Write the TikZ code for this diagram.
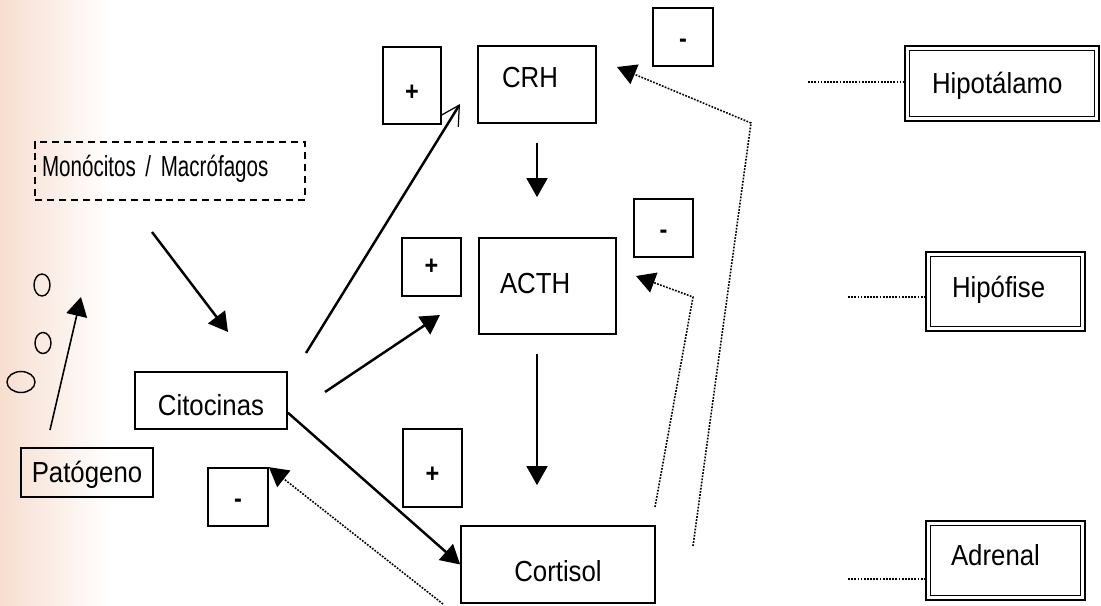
\documentclass[tikz,border=0pt]{standalone}
\usepackage{fontspec}
\setmainfont{Liberation Sans}[FakeStretch=0.89]
\newfontfamily\narrowfont{Liberation Sans}[FakeStretch=0.71]
\usepackage{xcolor}
\usepackage{tikz}
\usetikzlibrary{arrows.meta,positioning}
\definecolor{scanpink}{RGB}{247,222,208}

\tikzset{
  box/.style={draw, line width=1pt, inner sep=0pt, text height=11.8pt, text depth=0pt,
    font=\fontsize{16.5}{19}\selectfont},
  plusbox/.style={draw, line width=1pt, inner sep=0pt, text height=9pt, text depth=0pt,
    font=\fontsize{15}{18}\selectfont\bfseries},
  minusbox/.style={plusbox, text height=12pt},
  dashbox/.style={box, dash pattern=on 4pt off 2.8pt, font=\fontsize{16.5}{19}\narrowfont},
  organ/.style={box, line width=1.5pt},
  solidhead/.style={-{Triangle[length=0.38cm,width=0.42cm]}},
  heavy/.style={line width=1.4pt, solidhead},
  light/.style={line width=0.9pt, solidhead},
  feedback/.style={line width=0.9pt, dash pattern=on 1pt off 0.8pt, solidhead},
  guide/.style={line width=0.9pt, dash pattern=on 1pt off 0.8pt},
}

\begin{document}
\begin{tikzpicture}[x=0.02cm, y=-0.02cm]
        \useasboundingbox (0,0) rectangle (1101,605);
        \shade[left color=scanpink, right color=white] (0,0) rectangle (110,605);
        % eixo hormonal
        \node[box, minimum width=2.36cm, minimum height=1.54cm, inner xsep=0.48cm, text width=1.4cm, align=left, text depth=8.6pt] (crh) at (537,84.5) {CRH};
        \node[box, minimum width=2.74cm, minimum height=1.92cm, inner xsep=0.42cm, text width=1.9cm, align=left, text depth=3.4pt] (acth) at (547.5,286) {ACTH};
        \node[box, minimum width=3.88cm, minimum height=1.54cm, text height=19.2pt] (cort) at (558,564.5) {Cortisol};
        \node[plusbox, minimum width=1.16cm, minimum height=1.54cm, text height=17.6pt] (pcrh) at (412,85.5) {+};
        \node[plusbox, minimum width=1.18cm, minimum height=1.16cm] (pacth) at (431.5,267) {+};
        \node[plusbox, minimum width=1.18cm, minimum height=1.56cm, text height=17pt] (pcort) at (432.5,468) {+};
        \node[minusbox, minimum width=1.2cm, minimum height=1.16cm] (mcrh) at (683,37) {-};
        \node[minusbox, minimum width=1.18cm, minimum height=1.16cm] (macth) at (663.5,228) {-};
        % lado imune
        \node[dashbox, minimum height=1.16cm, inner xsep=0.14cm, text width=5.12cm, align=left, text depth=5.7pt] (mono) at (170,171) {Monócitos / Macrófagos};
        \node[box, minimum width=3.04cm, minimum height=1.14cm, text height=16.9pt] (cito) at (211,400.5) {Citocinas};
        \node[box, minimum width=2.64cm, minimum height=0.98cm] (pat) at (87,472.5) {Patógeno};
        \node[minusbox, minimum width=1.2cm, minimum height=1.16cm] (mcito) at (238,497) {-};
        % glândulas
        \node[organ, minimum height=1.5cm, inner xsep=0.54cm, text width=2.8cm, align=left] (hipo) at (1002,83.5) {Hipotálamo};
        \node[organ, minimum height=1.58cm, inner xsep=0.52cm, text width=2.14cm, align=left, text depth=5.1pt] (hipof) at (1005.5,291.5) {Hipófise};
        \node[organ, minimum height=1.58cm, inner xsep=0.5cm, text width=2.18cm, align=left, text depth=6.3pt] (adr) at (1005.5,560.5) {Adrenal};
        \foreach \n in {hipo,hipof,adr}{\draw[line width=0.7pt] ([shift={(5.5,5.5)}]\n.north west) rectangle ([shift={(-5.5,-5.5)}]\n.south east);}

        % partículas
        \draw[line width=0.8pt] (42,285) ellipse [x radius=0.16cm, y radius=0.22cm];
        \draw[line width=0.8pt] (43,343) ellipse [x radius=0.16cm, y radius=0.21cm];
        \draw[line width=0.8pt] (21,382) ellipse [x radius=0.28cm, y radius=0.21cm];

        % setas
        \coordinate (monoA) at (152,232);
        \coordinate (monoB) at (228,332);
        \draw[heavy] (monoA) -- (monoB);
        \coordinate (patA) at (50,430);
        \coordinate (patB) at (81,297);
        \draw[light] (patA) -- (patB);
        \coordinate (citoA) at (306,353);
        \coordinate (crhA) at (460,104);
        \draw[line width=1.4pt, -{Straight Barb[length=0.38cm,width=0.42cm,line width=0.7pt]}] (citoA) -- (crhA);
        \coordinate (citoB) at (325,392);
        \coordinate (acthA) at (440,315);
        \draw[heavy] (citoB) -- (acthA);
        \draw[heavy] (cito.-9) -- (cort.west);
        \draw[light, shorten <=0.38cm, shorten >=0.8cm] (crh.south) -- (crh.south |- acth.north);
        \draw[light, shorten <=0.38cm, shorten >=0.8cm] (crh.south |- acth.south) -- (crh.south |- cort.north);

        % retroalimentação
        \coordinate (fbA) at (693,546);
        \coordinate (fbB) at (751,123);
        \coordinate (fbC) at (617,67);
        \draw[feedback] (fbA) -- (fbB) -- (fbC);
        \coordinate (fbD) at (655,507);
        \coordinate (fbE) at (693,297);
        \coordinate (fbF) at (636,276);
        \draw[feedback] (fbD) -- (fbE) -- (fbF);
        \coordinate (fbG) at (443,604);
        \draw[feedback] (fbG) -- (mcito.north east);

        % guias
        \coordinate (gHipo) at (808,82);
        \coordinate (gHipof) at (848,297);
        \coordinate (gAdr) at (848,579);
        \draw[guide] (gHipo) -- (gHipo -| hipo.west);
        \draw[guide] (gHipof) -- (gHipof -| hipof.west);
        \draw[guide] (gAdr) -- (gAdr -| adr.west);
    \end{tikzpicture}
\end{document}
